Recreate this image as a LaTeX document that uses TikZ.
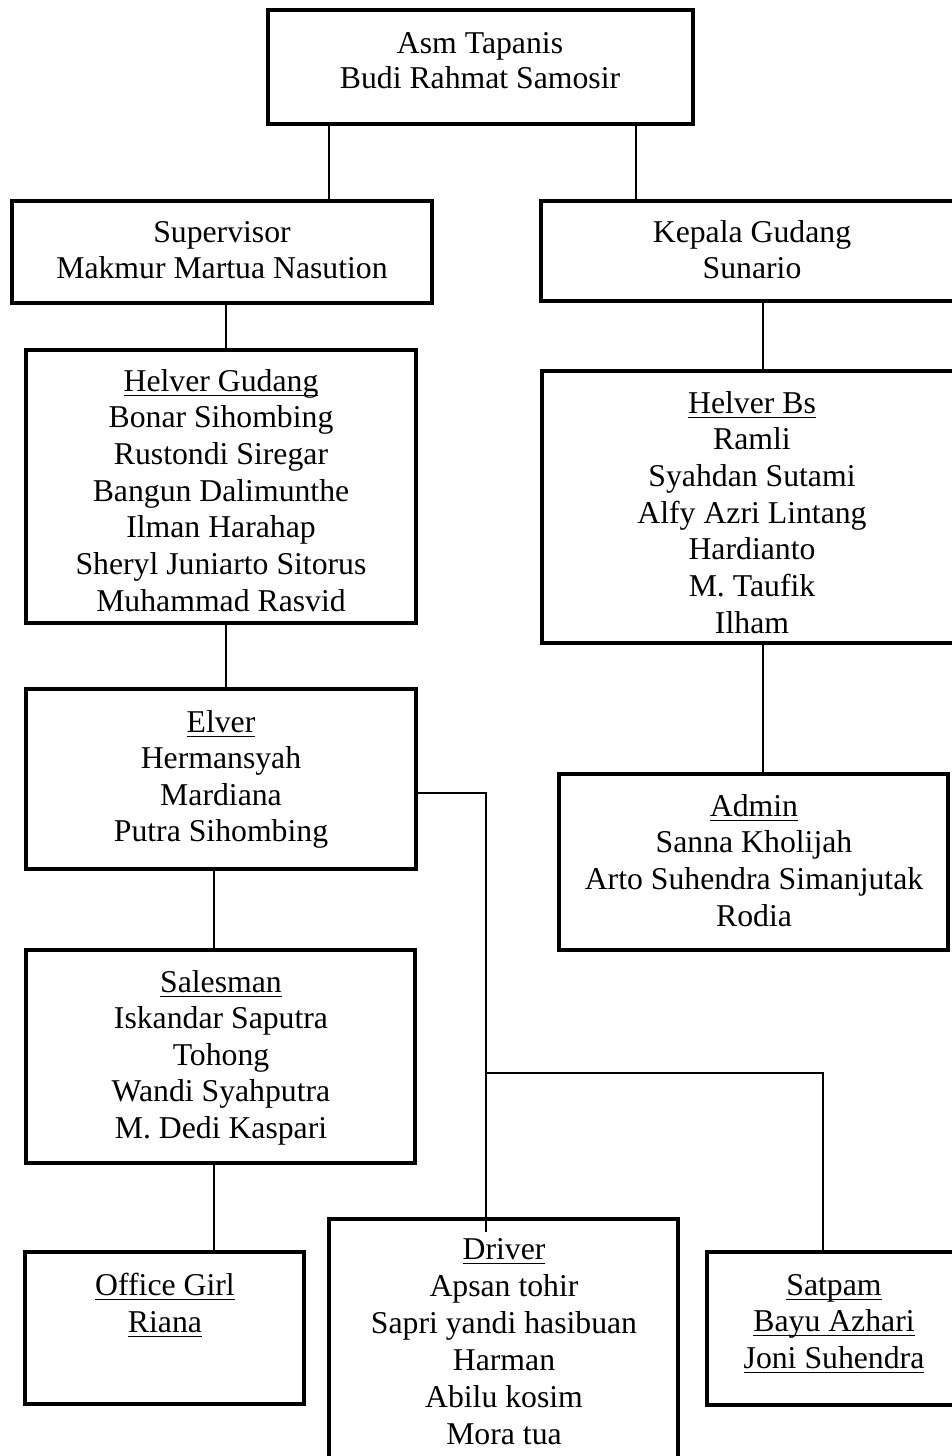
\documentclass[tikz,border=0pt]{standalone}
\usepackage{fontspec}
\setmainfont{Liberation Serif}
\newcommand\uln[1]{\setbox0=\hbox{#1}\rlap{\rule[-3.6pt]{\wd0}{0.85pt}}\box0}
\newcommand\mkbox[5]{\node[orgbox, minimum width={(#4-#2)*0.75pt}, minimum height={(#5-#3)*0.75pt}] (#1) at ({(#2+#4)/2},{(#3+#5)/2}) {};}
\newcommand\mklines[5]{\foreach \lbl [count=\i from 0] in {#5} {\node[txt] (#1-\i) at (#2,{#3+#4*\i}) {\lbl};}}
\begin{document}
\begin{tikzpicture}[x=0.75pt,y=-0.75pt,
  orgbox/.style={draw, line width=2.5pt, inner sep=0pt, outer sep=0pt, rectangle},
  txt/.style={anchor=base, inner sep=0pt, outer sep=0pt, font=\fontsize{23.8pt}{28pt}\selectfont},
  link/.style={line width=1pt}]
\useasboundingbox (0,0) rectangle (952,1456);
\clip (0,0) rectangle (952,1456);
\fill[white] (0,0) rectangle (952,1456);

\mkbox{top}{268}{10}{693}{124}
\mkbox{sup}{12}{201}{432}{303}
\mkbox{kep}{541}{201}{963}{301}
\mkbox{hg}{26}{350}{416}{623}
\mkbox{hb}{542}{371}{962}{643}
\mkbox{elv}{26}{689}{416}{869}
\mkbox{adm}{559}{774}{948}{950}
\mkbox{sal}{26}{950}{415}{1163}
\mkbox{og}{25}{1252}{304}{1404}
\mkbox{drv}{329}{1219}{678}{1475}
\mkbox{sat}{707}{1252}{962}{1405}

\mklines{topt}{480}{53}{35}{Asm Tapanis, Budi Rahmat Samosir}
\mklines{supt}{222}{242}{36}{Supervisor, Makmur Martua Nasution}
\mklines{kept}{752}{242}{36}{Kepala Gudang, Sunario}
\mklines{hgt}{221}{391}{36.7}{\uln{Helver Gudang}, Bonar Sihombing, Rustondi Siregar, Bangun Dalimunthe, Ilman Harahap, Sheryl Juniarto Sitorus, Muhammad Rasvid}
\mklines{hbt}{752}{413}{36.7}{\uln{Helver Bs}, Ramli, Syahdan Sutami, Alfy Azri Lintang, Hardianto, M. Taufik, Ilham}
\mklines{elvt}{221}{732}{36.5}{\uln{Elver}, Hermansyah, Mardiana, Putra Sihombing}
\mklines{admt}{754}{816}{36.7}{\uln{Admin}, Sanna Kholijah, Arto Suhendra Simanjutak, Rodia}
\mklines{salt}{221}{992}{36.6}{\uln{Salesman}, Iskandar Saputra, Tohong, Wandi Syahputra, M. Dedi Kaspari}
\mklines{ogt}{165}{1295}{37}{\uln{Office Girl}, \uln{Riana}}
\mklines{drvt}{504}{1259}{37}{\uln{Driver}, Apsan tohir, Sapri yandi hasibuan, Harman, Abilu kosim, Mora tua}
\mklines{satt}{834}{1295}{36.5}{\uln{Satpam}, \uln{Bayu Azhari}, \uln{Joni Suhendra}}

\coordinate (xa) at (329,0);
\coordinate (xb) at (636,0);
\coordinate (xc) at (226,0);
\coordinate (xd) at (763,0);
\coordinate (xe) at (214,0);
\coordinate (xs) at (823,0);
\coordinate (j1) at (486,793);
\coordinate (j2) at (486,1073);
\coordinate (dend) at (486,1232);

\draw[link] (top.south -| xa) -- (sup.north -| xa);
\draw[link] (top.south -| xb) -- (kep.north -| xb);
\draw[link] (sup.south -| xc) -- (hg.north -| xc);
\draw[link] (kep.south -| xd) -- (hb.north -| xd);
\draw[link] (hg.south -| xc) -- (elv.north -| xc);
\draw[link] (hb.south -| xd) -- (adm.north -| xd);
\draw[link] (elv.south -| xe) -- (sal.north -| xe);
\draw[link] (sal.south -| xe) -- (og.north -| xe);
\draw[link] (elv.east |- j1) -- (j1) -- (dend);
\draw[link] (j2) -| (sat.north -| xs);
\end{tikzpicture}
\end{document}
